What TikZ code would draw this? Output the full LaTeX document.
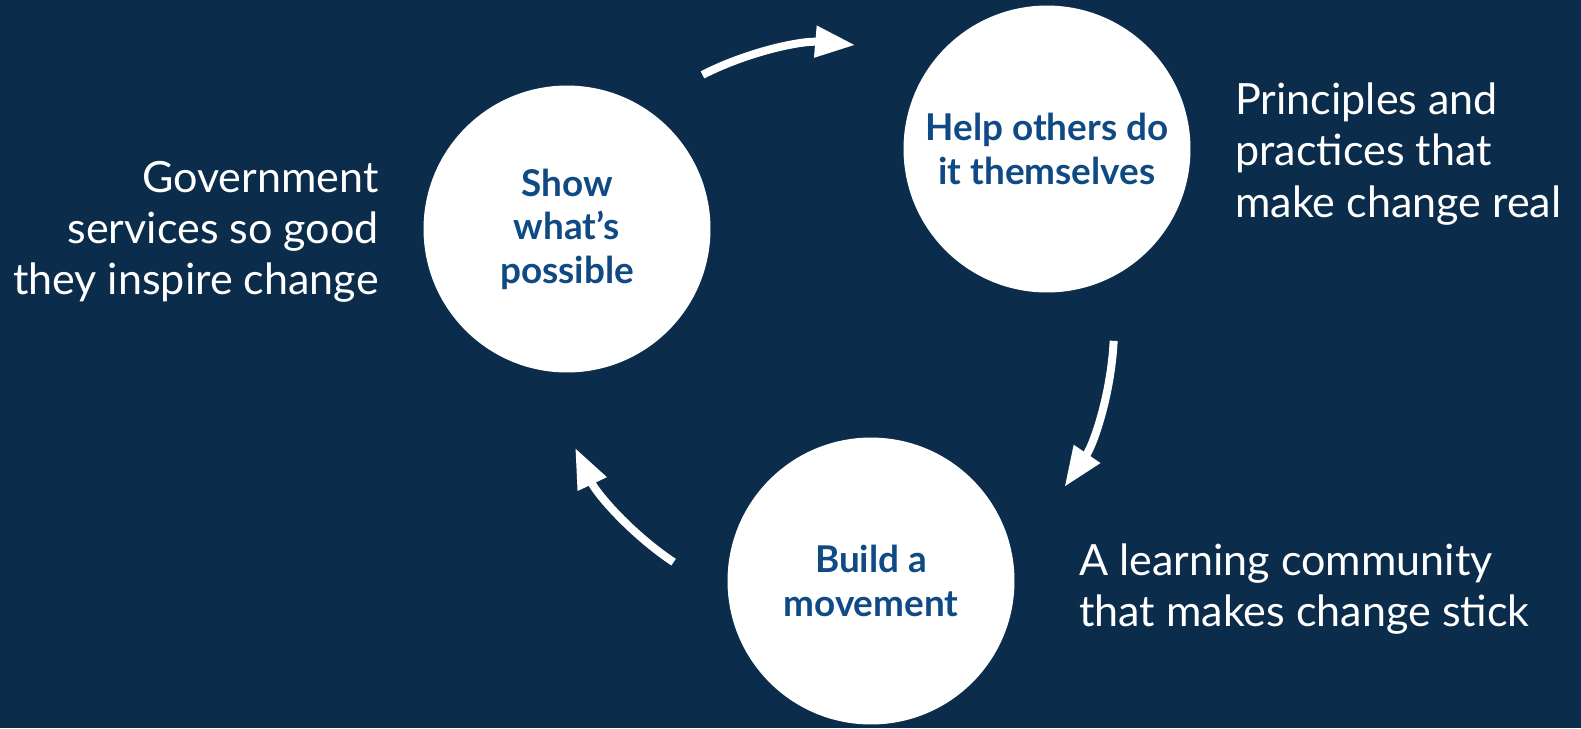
\documentclass[tikz,border=0pt]{standalone}
\usepackage{fontspec}
\setmainfont{Lato}
\usetikzlibrary{arrows.meta,calc}
\definecolor{navybg}{HTML}{0B2D4B}
\definecolor{navytext}{HTML}{104A85}

\begin{document}
\begin{tikzpicture}[x=0.02cm,y=-0.02cm,
                    >={Triangle[length=0.8cm,width=0.6cm]},
                    flow/.style={->,draw=white,line width=0.16cm}]
  \tikzstyle{stage}=[circle,fill=white,minimum size=5.74cm,inner sep=0pt,
                     align=center,text=navytext,
                     font=\bfseries\fontsize{21}{24.7}\selectfont,
                     execute at begin node={\rule{0pt}{1.05em}}]
  \tikzstyle{caption}=[text=white,inner sep=0pt,
                       font=\fontsize{24.5}{29.2}\selectfont]

  % background
  \fill[navybg] (0,0) rectangle (1581,728);

  \node[stage] (show)  at (567,229) {Show\\what’s\\possible};
  \node[stage] (help)  at (1047,149) {Help others do\\it themselves};
  \node[stage] (build) at (871,581) {Build a\\movement};

  \node[caption,anchor=east,align=right] (govt) at (379,232)
    {Government\\services so good\\they inspire change};
  \node[caption,anchor=west,align=left] (principles) at (1235,154)
    {Principles and\\practices that\\make change real};
  \node[caption,anchor=west,align=left] (learning) at (1079,589)
    {A learning community\\that makes change stick};

  % cycle arrows round the hub
  \coordinate (hub) at (831,327);
  \foreach \s/\e [count=\i] in {-117/-85.1, 2.8/34.4, 123.8/154.7}{
    \coordinate (from\i) at ($(hub)+(\s:283)$);
    \draw[flow] (from\i) arc[start angle=\s,end angle=\e,radius=283];
  }

  \pgfresetboundingbox
  \useasboundingbox (0,0) rectangle (1581,728);
\end{tikzpicture}
\end{document}
